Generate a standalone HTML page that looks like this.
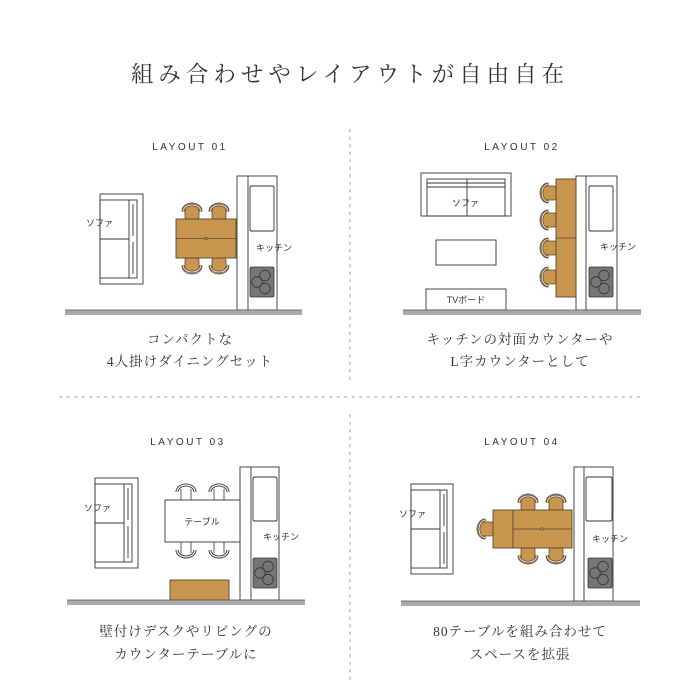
<!DOCTYPE html>
<html><head><meta charset="utf-8"><style>
html,body{margin:0;padding:0;background:#fff}
svg{display:block}
.t{font-family:"Liberation Serif","Noto Serif CJK JP",serif;fill:#333}
.s{font-family:"Liberation Sans","Noto Sans CJK JP",sans-serif;fill:#333;font-size:9px}
.h{font-family:"Liberation Sans","Noto Sans CJK JP",sans-serif;fill:#333;font-size:10px;letter-spacing:2.5px}
</style></head><body>
<svg width="700" height="700" viewBox="0 0 700 700" xmlns="http://www.w3.org/2000/svg">
<defs>
<g id="ch">
<path d="M-7,3 L-7,-3 A7,7 0 0 1 7,-3 L7,3 A3,3 0 0 1 4,6 L-4,6 A3,3 0 0 1 -7,3Z" fill="#c8964e" stroke="#5a4630" stroke-width="0.8"/>
<path d="M-10,-3 A10,8 0 0 1 10,-3" fill="none" stroke="#5a4630" stroke-width="0.8"/>
<path d="M-9,-2 A9,7 0 0 1 9,-2" fill="none" stroke="#5a4630" stroke-width="2.5"/>
<path d="M-9,-2 A9,7 0 0 1 9,-2" fill="none" stroke="#f3e6cc" stroke-width="1"/>
</g>
<g id="chw">
<path d="M-9,-2 A9,7 0 0 1 9,-2" fill="none" stroke="#333" stroke-width="3"/>
<path d="M-9,-2 A9,7 0 0 1 9,-2" fill="none" stroke="#fff" stroke-width="1.2"/>
<line x1="-5" y1="-5" x2="-5" y2="6" stroke="#333" stroke-width="0.8"/>
<line x1="5" y1="-5" x2="5" y2="6" stroke="#333" stroke-width="0.8"/>
</g>
<g id="stove">
<rect x="0" y="0" width="24" height="30" rx="1.5" fill="#767676" stroke="#333" stroke-width="0.8"/>
<circle cx="15" cy="8.5" r="5.3" fill="none" stroke="#333" stroke-width="0.8"/>
<circle cx="7" cy="15" r="5.3" fill="none" stroke="#333" stroke-width="0.8"/>
<circle cx="15" cy="21.5" r="5.3" fill="none" stroke="#333" stroke-width="0.8"/>
</g>
</defs>

<text class="t" x="350" y="82" font-size="22.5" text-anchor="middle" letter-spacing="5">組み合わせやレイアウトが自由自在</text>

<line x1="350" y1="130" x2="350" y2="380" stroke="#ccc" stroke-width="2" stroke-dasharray="1.5 6" stroke-linecap="round"/>
<line x1="60" y1="397" x2="640" y2="397" stroke="#ccc" stroke-width="2" stroke-dasharray="1.5 6" stroke-linecap="round"/>
<line x1="350" y1="415" x2="350" y2="680" stroke="#ccc" stroke-width="2" stroke-dasharray="1.5 6" stroke-linecap="round"/>

<g fill="none" stroke="#333" stroke-width="0.9">
<rect x="100" y="194" width="43" height="90" fill="#fff"/>
<rect x="100" y="200" width="37" height="78"/>
<line x1="129" y1="200" x2="129" y2="278"/>
<line x1="133" y1="204" x2="133" y2="236"/><line x1="133" y1="242" x2="133" y2="274"/>
<line x1="100" y1="239" x2="129" y2="239"/>
<rect x="237" y="176" width="40" height="134" fill="#fff"/>
<line x1="248" y1="176" x2="248" y2="310"/>
<rect x="250" y="186" width="24" height="45" rx="1.5"/>
</g>
<use href="#stove" x="250" y="267"/>
<use href="#ch" transform="translate(192,214)"/>
<use href="#ch" transform="translate(219,214)"/>
<use href="#ch" transform="translate(192,263) rotate(180)"/>
<use href="#ch" transform="translate(219,263) rotate(180)"/>
<rect x="176" y="219" width="60" height="39" fill="#c8964e" stroke="#5a4630" stroke-width="0.9"/>
<line x1="176" y1="238.5" x2="236" y2="238.5" stroke="#5a4630" stroke-width="0.8"/>
<circle cx="206" cy="238.5" r="1.3" fill="#c8964e" stroke="#5a4630" stroke-width="0.6"/>
<rect x="65" y="310" width="237" height="5" fill="#aaa"/>
<line x1="65" y1="310" x2="302" y2="310" stroke="#555" stroke-width="0.8"/>
<text class="h" x="190" y="150" text-anchor="middle">LAYOUT 01</text>
<text class="s" x="86" y="226">ソファ</text>
<text class="s" x="256" y="251">キッチン</text>
<text class="t" x="190" y="344" font-size="13.5" text-anchor="middle" letter-spacing="1">コンパクトな</text>
<text class="t" x="190" y="366" font-size="13.5" text-anchor="middle" letter-spacing="1">4人掛けダイニングセット</text>

<g fill="none" stroke="#333" stroke-width="0.9">
<rect x="421" y="173" width="90" height="43" fill="#fff"/>
<rect x="427" y="179" width="78" height="37"/>
<line x1="427" y1="183" x2="505" y2="183"/><line x1="427" y1="187" x2="505" y2="187"/>
<line x1="467" y1="179" x2="467" y2="216"/>
<rect x="436" y="240" width="60" height="25"/>
<rect x="426" y="289" width="80" height="21" fill="#fff"/>
<rect x="576" y="176" width="41" height="134" fill="#fff"/>
<line x1="586" y1="176" x2="586" y2="310"/>
<rect x="589" y="186" width="24" height="45" rx="1.5"/>
</g>
<use href="#stove" x="589" y="267"/>
<use href="#ch" transform="translate(551,193) rotate(-90)"/>
<use href="#ch" transform="translate(551,220) rotate(-90)"/>
<use href="#ch" transform="translate(551,248) rotate(-90)"/>
<use href="#ch" transform="translate(551,277) rotate(-90)"/>
<rect x="556" y="179" width="20" height="118" fill="#c8964e" stroke="#5a4630" stroke-width="0.9"/>
<line x1="556" y1="238" x2="576" y2="238" stroke="#5a4630" stroke-width="0.8"/>
<rect x="403" y="310" width="238" height="5" fill="#aaa"/>
<line x1="403" y1="310" x2="641" y2="310" stroke="#555" stroke-width="0.8"/>
<text class="h" x="522" y="150" text-anchor="middle">LAYOUT 02</text>
<text class="s" x="452" y="206">ソファ</text>
<text class="s" x="600" y="250">キッチン</text>
<text class="s" x="466" y="303" text-anchor="middle">TVボード</text>
<text class="t" x="520" y="344" font-size="13.5" text-anchor="middle" letter-spacing="1">キッチンの対面カウンターや</text>
<text class="t" x="520" y="366" font-size="13.5" text-anchor="middle" letter-spacing="1">L字カウンターとして</text>

<g fill="none" stroke="#333" stroke-width="0.9">
<rect x="95" y="478" width="43" height="90" fill="#fff"/>
<rect x="95" y="484" width="37" height="78"/>
<line x1="124" y1="484" x2="124" y2="562"/>
<line x1="128" y1="488" x2="128" y2="520"/><line x1="128" y1="526" x2="128" y2="558"/>
<line x1="95" y1="523" x2="124" y2="523"/>
<rect x="240" y="467" width="39" height="133" fill="#fff"/>
<line x1="251" y1="467" x2="251" y2="600"/>
<rect x="253" y="477" width="24" height="44" rx="1.5"/>
</g>
<use href="#stove" x="253" y="558"/>
<use href="#chw" transform="translate(186,494)"/>
<use href="#chw" transform="translate(219,494)"/>
<use href="#chw" transform="translate(186,548) rotate(180)"/>
<use href="#chw" transform="translate(219,548) rotate(180)"/>
<rect x="165" y="500" width="75" height="42" fill="#fff" stroke="#333" stroke-width="0.9"/>
<rect x="170" y="580" width="59" height="20" fill="#c8964e" stroke="#5a4630" stroke-width="0.9"/>
<rect x="67" y="600" width="238" height="5" fill="#aaa"/>
<line x1="67" y1="600" x2="305" y2="600" stroke="#555" stroke-width="0.8"/>
<text class="h" x="188" y="445" text-anchor="middle">LAYOUT 03</text>
<text class="s" x="84" y="511">ソファ</text>
<text class="s" x="202" y="525" text-anchor="middle">テーブル</text>
<text class="s" x="263" y="540">キッチン</text>
<text class="t" x="186" y="636" font-size="13.5" text-anchor="middle" letter-spacing="1">壁付けデスクやリビングの</text>
<text class="t" x="186" y="659" font-size="13.5" text-anchor="middle" letter-spacing="1">カウンターテーブルに</text>

<g fill="none" stroke="#333" stroke-width="0.9">
<rect x="411" y="484" width="42" height="90" fill="#fff"/>
<rect x="411" y="490" width="36" height="78"/>
<line x1="440" y1="490" x2="440" y2="568"/>
<line x1="444" y1="494" x2="444" y2="526"/><line x1="444" y1="532" x2="444" y2="564"/>
<line x1="411" y1="529" x2="440" y2="529"/>
<rect x="574" y="467" width="39" height="134" fill="#fff"/>
<line x1="584" y1="467" x2="584" y2="601"/>
<rect x="586" y="477" width="26" height="44" rx="1.5"/>
</g>
<use href="#stove" x="588" y="558"/>
<use href="#ch" transform="translate(528,505)"/>
<use href="#ch" transform="translate(556,505)"/>
<use href="#ch" transform="translate(528,553) rotate(180)"/>
<use href="#ch" transform="translate(556,553) rotate(180)"/>
<use href="#ch" transform="translate(488,529) rotate(-90)"/>
<rect x="493" y="510" width="79" height="38" fill="#c8964e" stroke="#5a4630" stroke-width="0.9"/>
<line x1="513" y1="510" x2="513" y2="548" stroke="#5a4630" stroke-width="0.9"/>
<line x1="513" y1="529" x2="572" y2="529" stroke="#5a4630" stroke-width="0.8"/>
<circle cx="542" cy="529" r="1.3" fill="#c8964e" stroke="#5a4630" stroke-width="0.6"/>
<rect x="401" y="601" width="239" height="5" fill="#aaa"/>
<line x1="401" y1="601" x2="640" y2="601" stroke="#555" stroke-width="0.8"/>
<text class="h" x="522" y="445" text-anchor="middle">LAYOUT 04</text>
<text class="s" x="399" y="517">ソファ</text>
<text class="s" x="592" y="542">キッチン</text>
<text class="t" x="520" y="636" font-size="13.5" text-anchor="middle" letter-spacing="1">80テーブルを組み合わせて</text>
<text class="t" x="520" y="659" font-size="13.5" text-anchor="middle" letter-spacing="1">スペースを拡張</text>
</svg>
</body></html>
